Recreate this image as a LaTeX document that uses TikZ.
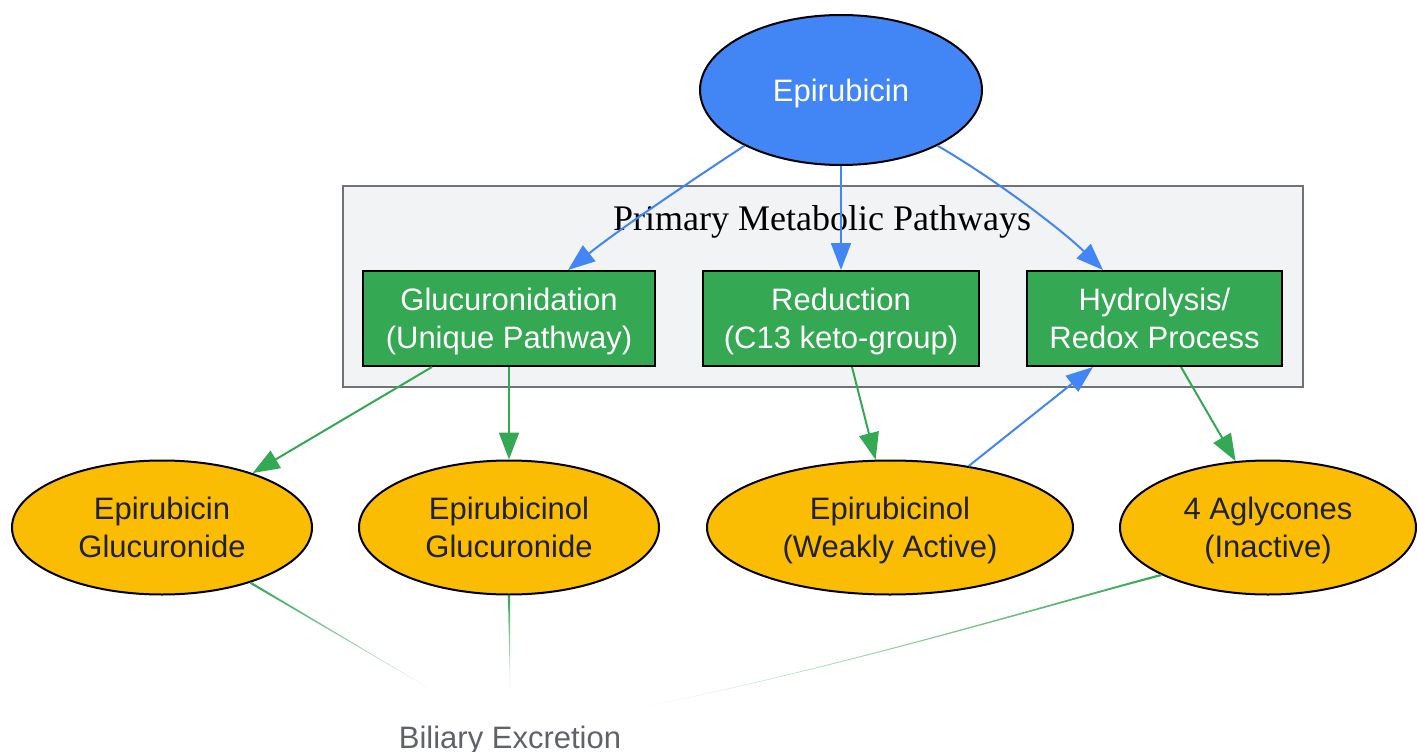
\documentclass[tikz,border=0pt]{standalone}
\usepackage{fontspec}
\setmainfont{Liberation Sans}
\newfontfamily\titlefont{Liberation Serif}
\usetikzlibrary{shapes.geometric,arrows.meta}
\definecolor{gblue}{HTML}{4285F4}
\definecolor{ggreen}{HTML}{34A853}
\definecolor{gyellow}{HTML}{FBBC04}
\definecolor{gdark}{HTML}{202124}
\definecolor{ggray}{HTML}{5F6368}
\definecolor{clusterbg}{HTML}{F1F3F4}
\newcommand{\tstrut}{\rule{0pt}{33.4pt}}
\tikzset{
  basefont/.style={font=\fontsize{31}{38}\selectfont, align=center,
    execute at end node={\rule[-11.4pt]{0pt}{11.4pt}}},
  drug/.style={ellipse, draw=black, line width=2pt, fill=gblue, text=white, basefont, inner sep=0pt},
  metab/.style={ellipse, draw=black, line width=2pt, fill=gyellow, text=gdark, basefont, inner sep=0pt, minimum height=134pt},
  pathbox/.style={rectangle, draw=black, line width=2pt, fill=ggreen, text=white, basefont, inner sep=0pt, minimum height=95pt},
  clusterbox/.style={draw=ggray!90, line width=2pt, fill=clusterbg},
  bluearrow/.style={draw=gblue, line width=2pt, -{Triangle[length=27pt,width=20pt]}},
  greenarrow/.style={draw=ggreen, line width=2pt, -{Triangle[length=27pt,width=20pt]}},
  taperright/.style={left color=ggreen, middle color=ggreen, right color=ggreen!12},
  taperdown/.style={top color=ggreen, middle color=ggreen, bottom color=ggreen!12},
  taperleft/.style={left color=ggreen!12, middle color=ggreen, right color=ggreen},
}
\begin{document}
\begin{tikzpicture}[x=1pt,y=-1pt]
\useasboundingbox (0,0) rectangle (1417,752);
% cluster
\path[clusterbox] (343,186) rectangle (1303,387);
\node[font=\titlefont\fontsize{36}{40}\selectfont, text=black] (title) at (822,222) {Primary Metabolic Pathways};
% nodes
\node[drug, minimum width=282pt, minimum height=150pt] (epi) at (841,90) {\tstrut Epirubicin};
\node[pathbox, minimum width=292pt] (gluc) at (509,318.5) {\tstrut Glucuronidation\\(Unique Pathway)};
\node[pathbox, minimum width=276pt] (red) at (841,318.5) {\tstrut Reduction\\(C13 keto-group)};
\node[pathbox, minimum width=255pt] (hyd) at (1154.5,318.5) {\tstrut Hydrolysis/\\Redox Process};
\node[metab, minimum width=300pt] (epiG) at (162,527.5) {\tstrut Epirubicin\\Glucuronide};
\node[metab, minimum width=300pt] (epolG) at (509,527.5) {\tstrut Epirubicinol\\Glucuronide};
\node[metab, minimum width=366pt] (epiol) at (890,527.5) {\tstrut Epirubicinol\\(Weakly Active)};
\node[metab, minimum width=296pt] (agly) at (1268,527.5) {\tstrut 4 Aglycones\\(Inactive)};
\node[basefont, text=ggray] (bil) at (510,737) {\tstrut Biliary Excretion};
\coordinate (bilA) at (432,690);
\coordinate (bilB) at (510,690);
\coordinate (bilC) at (648,706);
% blue edges
\draw[bluearrow] (epi.210) .. controls (700,175) and (625,225) .. ([xshift=59pt]gluc.north);
\draw[bluearrow] (epi.south) -- (red.north);
\draw[bluearrow] (epi.330) .. controls (990,176) and (1060,228) .. ([xshift=-51.5pt]hyd.north);
\draw[bluearrow] (epiol.38) -- ([xshift=-61.5pt]hyd.south);
% green edges
\draw[greenarrow] ([xshift=-77pt]gluc.south) -- (epiG.31);
\draw[greenarrow] (gluc.south) -- (epolG.north);
\draw[greenarrow] ([xshift=11pt]red.south) -- (epiol.102);
\draw[greenarrow] ([xshift=26.5pt]hyd.south) -- (agly.116);
% tapered edges to biliary excretion
\shade[taperright] ([shift={(-0.6,0.95)}]epiG.328) -- ([shift={(0.6,-0.95)}]epiG.328) -- (bilA) -- cycle;
\shade[taperdown] ([xshift=-1.1pt]epolG.south) -- ([xshift=1.1pt]epolG.south) -- (bilB) -- cycle;
\shade[taperleft] ([shift={(-0.3,-1.1)}]agly.204) .. controls (1050,603.5) and (850,664.5) .. (bilC)
  .. controls (850,665.5) and (1050,605) .. ([shift={(0.3,1.1)}]agly.204) -- cycle;
\end{tikzpicture}
\end{document}
